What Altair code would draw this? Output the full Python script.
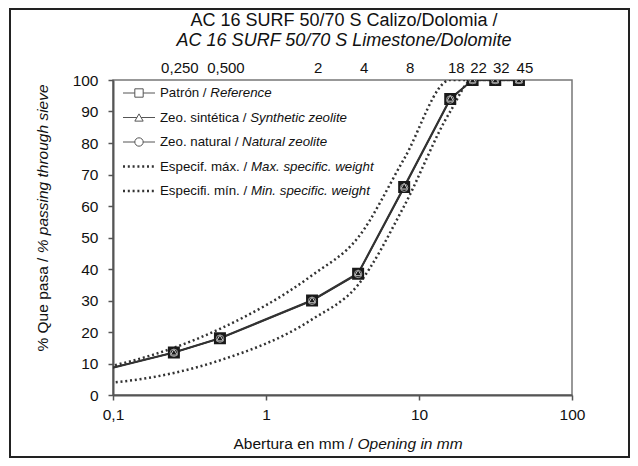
import altair as alt
import pandas as pd

FONT = "Liberation Sans"

# ---- data ----
sieves = [0.063, 0.25, 0.5, 2, 4, 8, 16, 22.4, 31.5, 45]
reference = [6.3, 13.5, 18.0, 30.0, 38.5, 66.0, 94.0, 100, 100, 100]
synthetic = [6.3, 13.6, 18.1, 30.2, 38.8, 66.3, 94.2, 100, 100, 100]
natural = [6.2, 13.4, 17.9, 29.9, 38.4, 65.8, 93.8, 100, 100, 100]
spec_max = [7, 15, 21, 38, 50, 75, 100, 100, 100, 100]
spec_min = [3, 7, 11, 24, 35, 60, 90, 100, 100, 100]

top_label_sieves = [0.25, 0.5, 2, 4, 8, 16, 22.4, 31.5, 45]
top_labels = ["0,250", "0,500", "2", "4", "8", "18", "22", "32", "45"]

x_ticks = [0.1, 1, 10, 100]
y_ticks = list(range(0, 101, 10))

title_line1 = "AC 16 SURF 50/70 S Calizo/Dolomia /"
title_line2 = "AC 16 SURF 50/70 S Limestone/Dolomite"
x_title = ["Abertura en mm / ", "Opening in mm"]
y_title = ["% Que pasa / ", "% passing through sieve"]

legend_regular = ["Patrón / ", "Zeo. sintética / ", "Zeo. natural / ",
                  "Especif. máx. / ", "Especifi. mín. / "]
legend_italic = ["Reference", "Synthetic zeolite", "Natural zeolite",
                 "Max. specific. weight", "Min. specific. weight"]
legend_kind = ["square", "triangle-up", "circle", "dots", "dots"]

# ---- Arial/Liberation Sans advance widths (per 1000 em) ----
W = {" ": 278, "a": 556, "b": 556, "c": 500, "d": 556, "e": 556, "f": 278, "g": 556,
     "h": 556, "i": 222, "j": 222, "k": 500, "l": 222, "m": 833, "n": 556, "o": 556,
     "p": 556, "q": 556, "r": 333, "s": 500, "t": 278, "u": 556, "v": 500, "w": 722,
     "x": 500, "y": 500, "z": 500, "A": 667, "B": 667, "C": 722, "D": 722, "E": 667,
     "F": 611, "M": 833, "N": 722, "O": 778, "P": 667, "Q": 778, "R": 722, "S": 667,
     "Z": 611, "/": 278, ".": 278, ",": 278, "%": 889, "ó": 556, "í": 278, "á": 556,
     "é": 556}


def tw(s, size):
    return sum(W.get(c, 556) for c in s) * size / 1000.0


# ---- plot geometry (pixels) ----
PW, PH = 459, 315

df = pd.DataFrame({"x": sieves, "ref": reference, "syn": synthetic, "nat": natural,
                   "smax": spec_max, "smin": spec_min})
pts = df[df["x"] >= 0.1]

xscale = alt.Scale(type="log", domain=[0.1, 100])
yscale = alt.Scale(domain=[0, 100], nice=False, zero=True)
xaxis = alt.Axis(values=x_ticks, title=None, grid=False, tickSize=5, labelPadding=7,
                 labelExpr="replace(format(datum.value, '~g'), '.', ',')",
                 labelFont=FONT, labelFontSize=15.5, labelColor="#111",
                 domainColor="#555", domainWidth=2, tickColor="#555", tickWidth=1.5,
                 labelFlush=False, labelOverlap=False)
yaxis = alt.Axis(values=y_ticks, title=None, grid=False, tickSize=5, labelPadding=10,
                 labelFont=FONT, labelFontSize=15.5, labelColor="#111",
                 domainColor="#555", domainWidth=2, tickColor="#555", tickWidth=1.5,
                 labelOverlap=False, labelFlush=False, labelBound=False)


def X(field="x"):
    return alt.X(f"{field}:Q", scale=xscale, axis=xaxis)


def Y(field):
    return alt.Y(f"{field}:Q", scale=yscale, axis=yaxis)


base = alt.Chart(df)

layers = []

# outer frame
layers.append(alt.Chart(pd.DataFrame({"a": [0]})).mark_rect(
    fill="transparent", stroke="#222", strokeWidth=2).encode(
    x=alt.value(-103), x2=alt.value(516), y=alt.value(-71), y2=alt.value(377)))

# spec envelopes (dotted)
for col in ["smax", "smin"]:
    layers.append(base.mark_line(color="#333", strokeWidth=2.5, strokeDash=[2, 2.8],
                                 interpolate="monotone", clip=True).encode(
        x=X(), y=Y(col)))

# measured curves
for col in ["ref", "syn", "nat"]:
    layers.append(base.mark_line(color="#333", strokeWidth=1.5, clip=True).encode(
        x=X(), y=Y(col)))
marker_styles = [("ref", "square", "#1a1a1a", "#1a1a1a", 2.0, 100),
                 ("syn", "triangle-up", None, "#cfcfcf", 1.0, 45),
                 ("nat", "circle", None, "#9a9a9a", 1.0, 55)]
for col, shape, fill, stroke, sw, size in marker_styles:
    kw = dict(shape=shape, stroke=stroke, strokeWidth=sw, size=size, clip=True, opacity=1)
    if fill:
        kw.update(filled=True, fill=fill)
    else:
        kw.update(filled=False)
    layers.append(alt.Chart(pts).mark_point(**kw).encode(x=X(), y=Y(col)))

# top sieve labels
top_df = pd.DataFrame({"x": top_label_sieves, "t": top_labels})
layers.append(alt.Chart(top_df).mark_text(font=FONT, fontSize=15, color="#111", dx=6,
                                          baseline="middle").encode(
    x=X(), y=alt.value(-12), text="t:N"))


def text_layer(s, x, y, size, italic=False, align="left", angle=0):
    kw = dict(font=FONT, fontSize=size, color="#111", align=align, baseline="middle")
    if italic:
        kw["fontStyle"] = "italic"
    if angle:
        kw["angle"] = angle
    return alt.Chart(pd.DataFrame({"t": [s]})).mark_text(**kw).encode(
        text="t:N", x=alt.value(x), y=alt.value(y))


# title
layers.append(text_layer(title_line1, 231, -59, 18, align="center"))
layers.append(text_layer(title_line2, 231, -39, 18, italic=True, align="center"))

# x title (mixed styles)
fs = 15.5
tot = tw(x_title[0], fs) + tw(x_title[1], fs)
x0 = 235 - tot / 2
layers.append(text_layer(x_title[0], x0, 364, fs))
layers.append(text_layer(x_title[1], x0 + tw(x_title[0], fs), 364, fs, italic=True))

# y title (rotated, mixed styles)
tot = tw(y_title[0], fs) + tw(y_title[1], fs)
y0 = 138 + tot / 2
layers.append(text_layer(y_title[0], -70, y0, fs, angle=270))
layers.append(text_layer(y_title[1], -70, y0 - tw(y_title[0], fs), fs, italic=True, angle=270))

# manual legend
lfs = 13.3
for i, (reg, ita, kind) in enumerate(zip(legend_regular, legend_italic, legend_kind)):
    yy = 13 + i * 24.5
    one = alt.Chart(pd.DataFrame({"a": [0]}))
    if kind == "dots":
        layers.append(one.mark_rule(color="#333", strokeWidth=2.5, strokeDash=[2, 2.8]).encode(
            x=alt.value(10), x2=alt.value(42), y=alt.value(yy)))
    else:
        layers.append(one.mark_rule(color="#555", strokeWidth=1).encode(
            x=alt.value(10), x2=alt.value(42), y=alt.value(yy)))
        layers.append(one.mark_point(shape=kind, filled=True, fill="white", stroke="#555",
                                     strokeWidth=1, size=70, opacity=1).encode(
            x=alt.value(26), y=alt.value(yy)))
    layers.append(text_layer(reg, 47, yy, lfs))
    layers.append(text_layer(ita, 47 + tw(reg, lfs), yy, lfs, italic=True))

chart = alt.layer(*layers).properties(
    width=PW, height=PH,
    autosize=alt.AutoSizeParams(type="none"),
    padding={"left": 105, "top": 72, "right": 58, "bottom": 63},
    background="white",
).configure_view(stroke="#777", strokeWidth=1.5)

chart.save("out.html", embed_options={"renderer": "svg", "actions": False})
